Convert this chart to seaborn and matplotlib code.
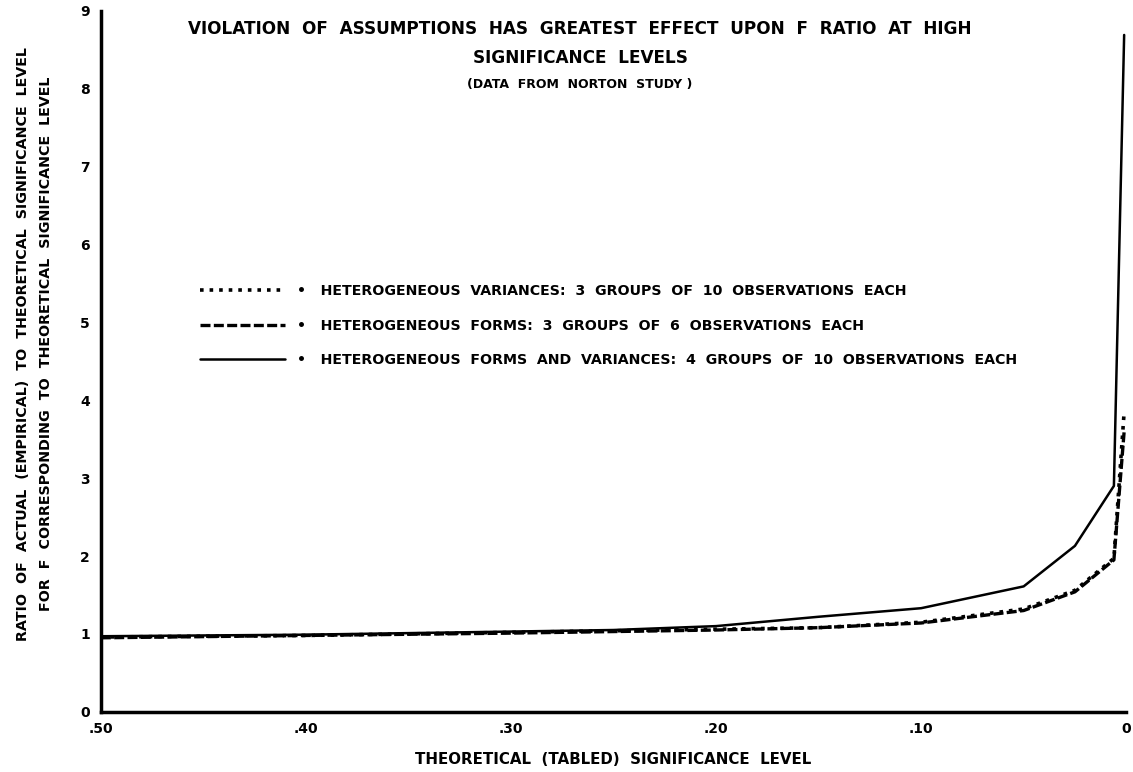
import matplotlib
matplotlib.use("Agg")
import matplotlib.pyplot as plt
import seaborn as sns
import pandas as pd

# Theoretical (tabled) significance levels
sig_levels = [0.50, 0.40, 0.30, 0.25, 0.20, 0.15, 0.10, 0.05, 0.025, 0.006, 0.001]

# Ratio of actual to theoretical significance level
het_variances = [0.96, 0.98, 1.02, 1.04, 1.06, 1.08, 1.15, 1.32, 1.56, 1.97, 3.85]
het_forms = [0.95, 0.98, 1.01, 1.03, 1.05, 1.08, 1.14, 1.30, 1.54, 1.95, 3.60]
het_forms_var = [0.97, 0.99, 1.03, 1.05, 1.10, 1.22, 1.33, 1.61, 2.13, 2.90, 8.69]

series_labels = [
    "HETEROGENEOUS  VARIANCES:  3  GROUPS  OF  10  OBSERVATIONS  EACH",
    "HETEROGENEOUS  FORMS:  3  GROUPS  OF  6  OBSERVATIONS  EACH",
    "HETEROGENEOUS  FORMS  AND  VARIANCES:  4  GROUPS  OF  10  OBSERVATIONS  EACH",
]
x_ticks = [0.50, 0.40, 0.30, 0.20, 0.10, 0.0]
x_ticklabels = [".50", ".40", ".30", ".20", ".10", "0"]
y_ticks = list(range(0, 10))

sns.set_theme(style="white")
plt.rcParams["font.family"] = ["DejaVu Sans"]
plt.rcParams["font.weight"] = "bold"
plt.rcParams["text.color"] = "black"
plt.rcParams["axes.labelcolor"] = "black"
plt.rcParams["xtick.color"] = "black"
plt.rcParams["ytick.color"] = "black"

fig = plt.figure(figsize=(11.33, 7.72), dpi=100)
ax = fig.add_axes([0.089, 0.078, 0.905, 0.908])

styles = [(":", 2.6), ((0, (3, 1)), 2.4), ("-", 1.8)]
for vals, lab, (ls, lw) in zip([het_variances, het_forms, het_forms_var], series_labels, styles):
    df = pd.DataFrame({"x": sig_levels, "y": vals})
    sns.lineplot(data=df, x="x", y="y", ax=ax, color="black", linestyle=ls,
                 linewidth=lw, label="\u2022   " + lab, sort=False)

ax.set_xlim(0.50, 0.0)
ax.set_ylim(0, 9)
ax.set_xticks(x_ticks)
ax.set_xticklabels(x_ticklabels, fontsize=10, fontweight="bold")
ax.set_yticks(y_ticks)
ax.set_yticklabels([str(t) for t in y_ticks], fontsize=10, fontweight="bold")
ax.tick_params(axis="both", direction="in", length=12, width=2.2, color="black", pad=8)
ax.tick_params(axis="x", pad=7)

for side in ["top", "right"]:
    ax.spines[side].set_visible(False)
for side in ["left", "bottom"]:
    ax.spines[side].set_color("black")
    ax.spines[side].set_linewidth(2.5)

ax.set_xlabel("THEORETICAL  (TABLED)  SIGNIFICANCE  LEVEL", fontsize=10.8,
              fontweight="bold", labelpad=12)
ax.set_ylabel("RATIO  OF  ACTUAL  (EMPIRICAL)  TO  THEORETICAL  SIGNIFICANCE  LEVEL\n"
              "FOR  F  CORRESPONDING  TO  THEORETICAL  SIGNIFICANCE  LEVEL",
              fontsize=10.3, fontweight="bold", linespacing=1.75)
ax.yaxis.set_label_coords(-0.047, 0.525)

fig.text(0.512, 0.962, "VIOLATION  OF  ASSUMPTIONS  HAS  GREATEST  EFFECT  UPON  F  RATIO  AT  HIGH",
         ha="center", va="center", fontsize=12.2, fontweight="bold")
fig.text(0.512, 0.925, "SIGNIFICANCE  LEVELS", ha="center", va="center",
         fontsize=12.2, fontweight="bold")
fig.text(0.512, 0.890, "(DATA  FROM  NORTON  STUDY )", ha="center", va="center",
         fontsize=9, fontweight="bold")

leg = ax.legend(loc="upper left", bbox_to_anchor=(0.084, 0.628), frameon=False,
                handlelength=6.0, handletextpad=0.9, labelspacing=1.45,
                prop={"weight": "bold", "size": 10.2})

fig.savefig("out.png", dpi=100)
